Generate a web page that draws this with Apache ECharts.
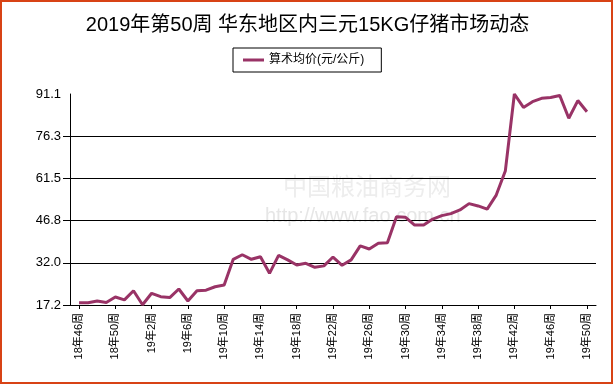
<!DOCTYPE html>
<html>
<head>
<meta charset="utf-8">
<script src="https://cdn.jsdelivr.net/npm/echarts@6/dist/echarts.min.js"></script>
<style>
html,body{margin:0;padding:0;background:#fff;}
#c{width:615px;height:385px;}
</style>
</head>
<body>
<div id="c"></div>
<script>
// categories (week labels)
const categories = ['18年46周','18年47周','18年48周','18年49周','18年50周','18年51周','18年52周',
  '19年1周','19年2周','19年3周','19年4周','19年5周','19年6周','19年7周','19年8周','19年9周','19年10周',
  '19年11周','19年12周','19年13周','19年14周','19年15周','19年16周','19年17周','19年18周','19年19周',
  '19年20周','19年21周','19年22周','19年23周','19年24周','19年25周','19年26周','19年27周','19年28周',
  '19年29周','19年30周','19年31周','19年32周','19年33周','19年34周','19年35周','19年36周','19年37周',
  '19年38周','19年39周','19年40周','19年41周','19年42周','19年43周','19年44周','19年45周','19年46周',
  '19年47周','19年48周','19年49周','19年50周'];
// series values: 算术均价(元/公斤)
const prices = [18.0,18.0,18.6,18.1,20.0,19.0,22.2,17.3,21.3,20.1,19.8,22.8,18.6,22.2,
  22.4,23.6,24.2,33.2,34.8,33.2,34.1,28.3,34.6,33.0,31.2,31.8,30.4,30.9,
  34.0,31.1,33.0,37.9,36.8,38.8,39.0,48.1,47.9,45.2,45.2,47.3,48.5,49.2,
  50.5,52.7,51.9,50.8,55.7,64.1,91.1,86.4,88.4,89.6,89.9,90.6,82.6,88.8,84.9];
// tick labels
const yTicks = [17.2, 31.98, 46.76, 61.54, 76.32, 91.1];
const xTickPos = [1,5,9,13,17,21,25,29,33,37,41,45,49,53,57]; // 1-based category positions

const FONT = "'Liberation Sans','Noto Sans CJK SC',sans-serif";
const chart = echarts.init(document.getElementById('c'), null, {renderer:'canvas'});
chart.setOption({
  animation:false,
  backgroundColor:'#fff',
  title:{
    text:'2019年第50周 华东地区内三元15KG仔猪市场动态',
    left:'center', top:10,
    textStyle:{fontFamily:FONT, fontSize:20, fontWeight:'normal', color:'#000'}
  },
  legend:{
    left:233, top:48,
    padding:[6,17,6,10],
    borderColor:'#000', borderWidth:1,
    itemWidth:21, itemHeight:3, itemGap:5,
    icon:'rect',
    textStyle:{fontFamily:FONT, fontSize:12, color:'#000'},
    data:['算术均价(元/公斤)']
  },
  grid:{left:70, right:19, top:94, bottom:80, containLabel:false},
  xAxis:{
    type:'value', min:0, max:58, position:'bottom',
    splitLine:{show:false},
    axisLine:{onZero:false, lineStyle:{color:'#000', width:1}},
    axisTick:{show:true, customValues:xTickPos, length:4, lineStyle:{color:'#000'}},
    axisLabel:{
      customValues:xTickPos, rotate:90, margin:8,
      fontFamily:FONT, fontSize:11, color:'#000',
      formatter:function(v){return categories[Math.round(v)-1] || '';}
    }
  },
  yAxis:{
    type:'value', min:17.2, max:91.1, interval:14.78, position:'left',
    axisLine:{show:true, onZero:false, lineStyle:{color:'#000', width:1}},
    axisTick:{show:true, length:7, customValues:yTicks.slice(0,5), lineStyle:{color:'#000'}},
    axisLabel:{
      customValues:yTicks, margin:9,
      fontFamily:FONT, fontSize:13, color:'#000',
      formatter:function(v){return v.toFixed(1);}
    },
    splitLine:{show:true, lineStyle:{color:'#000', width:1}}
  },
  series:[{
    name:'算术均价(元/公斤)',
    type:'line',
    data:prices.map(function(v,i){return [i+1,v];}),
    showSymbol:false, symbol:'none',
    lineStyle:{color:'#993366', width:3},
    itemStyle:{color:'#993366'},
    z:5
  }],
  graphic:[
    {type:'text', left:283, top:174, z:-1, silent:true,
      style:{text:'中国粮油商务网', font:"24px 'Noto Sans CJK SC'", fill:'#ededed'}},
    {type:'text', left:265, top:206, z:-1, silent:true,
      style:{text:'http://www.fao.com.cn', font:"20px 'Liberation Sans'", fill:'#e6e6e6'}},
    {type:'rect', shape:{x:1, y:1, width:611, height:382}, z:100, silent:true,
      style:{fill:'none', stroke:'#d84315', lineWidth:2}}
  ]
});
</script>
</body>
</html>
